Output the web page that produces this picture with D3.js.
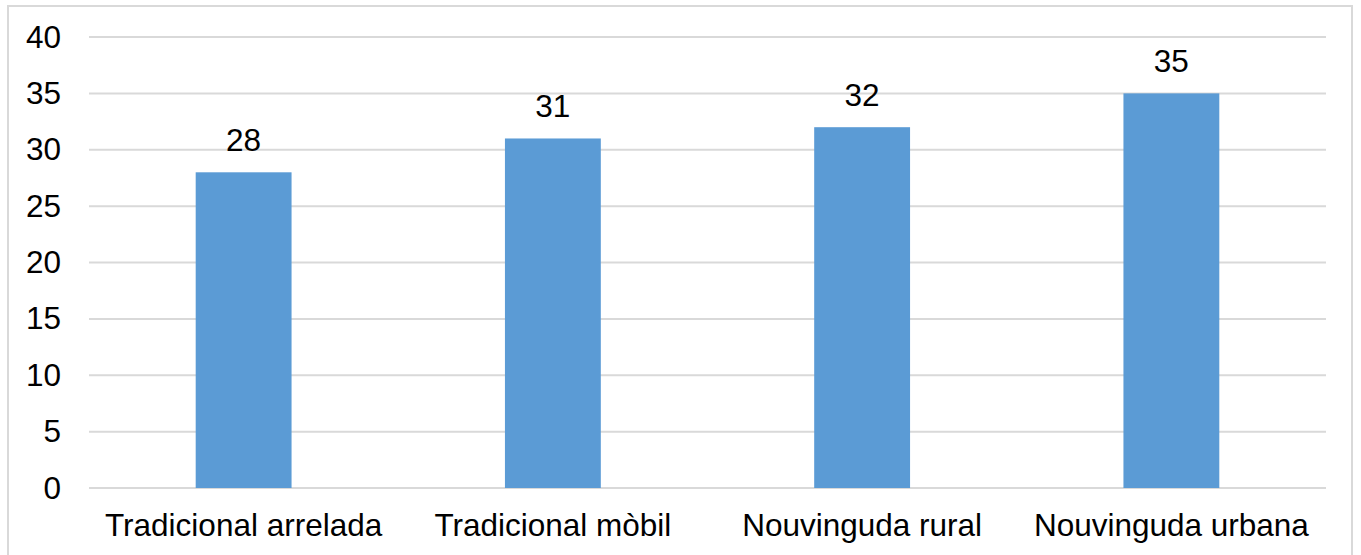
<!DOCTYPE html>
<html>
<head>
<meta charset="utf-8">
<script src="https://cdn.jsdelivr.net/npm/d3@7"></script>
<style>
  html, body { margin: 0; padding: 0; background: #fff; }
  svg { display: block; }
  text { font-family: "Liberation Sans", Arial, sans-serif; fill: #000; }
</style>
</head>
<body>
<svg id="chart" width="1361" height="555"></svg>
<script>
// Categories and values
const categories = ["Tradicional arrelada", "Tradicional mòbil", "Nouvinguda rural", "Nouvinguda urbana"];
const values = [28, 31, 32, 35];
const yTicks = [0, 5, 10, 15, 20, 25, 30, 35, 40];

const W = 1361, H = 555;
const margin = { left: 89, right: 35, top: 37, bottom: 67 };
const FS = 31.5;
const svg = d3.select("#chart");

// Outer frame
svg.append("rect")
  .attr("x", 8).attr("y", 6)
  .attr("width", 1344).attr("height", 560)
  .attr("fill", "none").attr("stroke", "#d9d9d9").attr("stroke-width", 2);

const x = d3.scaleBand()
  .domain(categories)
  .range([margin.left, W - margin.right])
  .padding(0);

const y = d3.scaleLinear()
  .domain([0, 40])
  .range([H - margin.bottom, margin.top]);

// Gridlines
svg.append("g")
  .selectAll("line")
  .data(yTicks)
  .join("line")
  .attr("x1", margin.left).attr("x2", W - margin.right)
  .attr("y1", d => y(d)).attr("y2", d => y(d))
  .attr("stroke", "#d9d9d9").attr("stroke-width", 2);

// Y axis labels
const yAxis = d3.axisLeft(y).tickValues(yTicks).tickSize(0).tickPadding(0);
const gy = svg.append("g")
  .attr("transform", `translate(${margin.left - 28},0)`)
  .call(yAxis);
gy.select(".domain").remove();
gy.selectAll("text")
  .attr("font-size", FS)
  .attr("font-family", "Liberation Sans, Arial, sans-serif")
  .attr("fill", "#000");

// Bars
const barFrac = 0.31;
const bw = x.bandwidth() * barFrac;
svg.append("g")
  .selectAll("rect")
  .data(values)
  .join("rect")
  .attr("x", (d, i) => x(categories[i]) + (x.bandwidth() - bw) / 2)
  .attr("y", d => y(d))
  .attr("width", bw)
  .attr("height", d => y(0) - y(d))
  .attr("fill", "#5b9bd5");

// Value labels
svg.append("g")
  .selectAll("text")
  .data(values)
  .join("text")
  .attr("x", (d, i) => x(categories[i]) + x.bandwidth() / 2)
  .attr("y", d => y(d) - 21)
  .attr("text-anchor", "middle")
  .attr("font-size", FS)
  .text(d => d);

// Category labels
const xAxis = d3.axisBottom(x).tickSize(0).tickPadding(0);
const gx = svg.append("g")
  .attr("transform", `translate(0,${y(0) + 26})`)
  .call(xAxis);
gx.select(".domain").remove();
gx.selectAll("text")
  .attr("font-size", FS)
  .attr("font-family", "Liberation Sans, Arial, sans-serif")
  .attr("fill", "#000");
</script>
</body>
</html>
